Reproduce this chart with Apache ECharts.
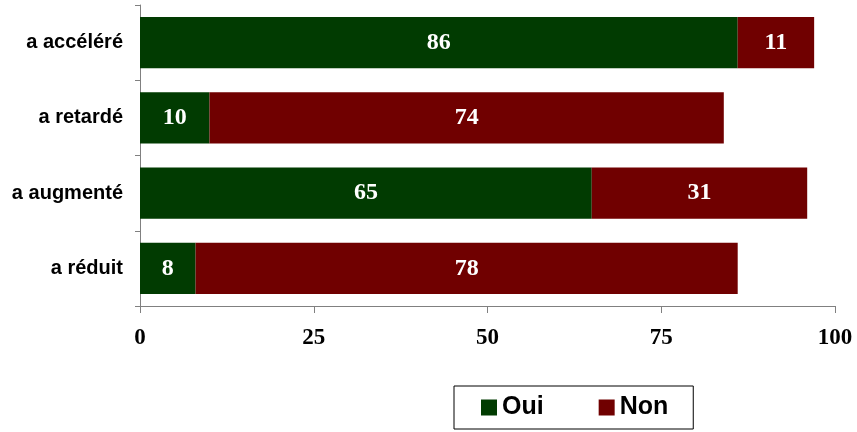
<!DOCTYPE html>
<html><head><meta charset="utf-8">
<script src="https://cdn.jsdelivr.net/npm/echarts@6/dist/echarts.min.js"></script>
<style>html,body{margin:0;padding:0;background:#fff}#c{width:857px;height:432px}</style>
</head><body><div id="c"></div>
<script>
var categories = ['a accéléré', 'a retardé', 'a augmenté', 'a réduit'];
var oui = [86, 10, 65, 8];
var non = [11, 74, 31, 78];
var xTicks = [0, 25, 50, 75, 100];

var chart = echarts.init(document.getElementById('c'), null, {renderer: 'canvas'});
var labelStyle = {show: true, position: 'inside', color: '#fff', fontFamily: 'Liberation Serif', fontWeight: 'bold', fontSize: 24};
chart.setOption({
  animation: false,
  backgroundColor: '#fff',
  grid: {left: 140, right: 22, top: 5, bottom: 126, containLabel: false},
  legend: {
    data: ['Oui', 'Non'], left: 454, top: 386,
    icon: 'rect', itemWidth: 16, itemHeight: 16, itemGap: 55,
    padding: [9, 25, 9, 27], borderColor: '#000', borderWidth: 1,
    textStyle: {fontFamily: 'Liberation Sans', fontWeight: 'bold', fontSize: 25, color: '#000'}
  },
  xAxis: {
    type: 'value', min: xTicks[0], max: xTicks[xTicks.length - 1], interval: 25,
    axisLine: {show: true, lineStyle: {color: '#808080', width: 1}},
    axisTick: {show: true, length: 7, lineStyle: {color: '#808080'}},
    splitLine: {show: false},
    axisLabel: {margin: 21, color: '#000', fontFamily: 'Liberation Serif', fontWeight: 'bold', fontSize: 23}
  },
  yAxis: {
    type: 'category', data: categories, inverse: true,
    axisLine: {show: true, lineStyle: {color: '#808080', width: 1}},
    axisTick: {show: true, length: 5, lineStyle: {color: '#808080'}},
    axisLabel: {margin: 17, color: '#000', fontFamily: 'Liberation Sans', fontWeight: 'bold', fontSize: 20}
  },
  series: [
    {name: 'Oui', type: 'bar', stack: 's', data: oui, barWidth: '68%', itemStyle: {color: '#013B01'}, label: labelStyle},
    {name: 'Non', type: 'bar', stack: 's', data: non, barWidth: '68%', itemStyle: {color: '#700000'}, label: labelStyle}
  ]
});
</script></body></html>
